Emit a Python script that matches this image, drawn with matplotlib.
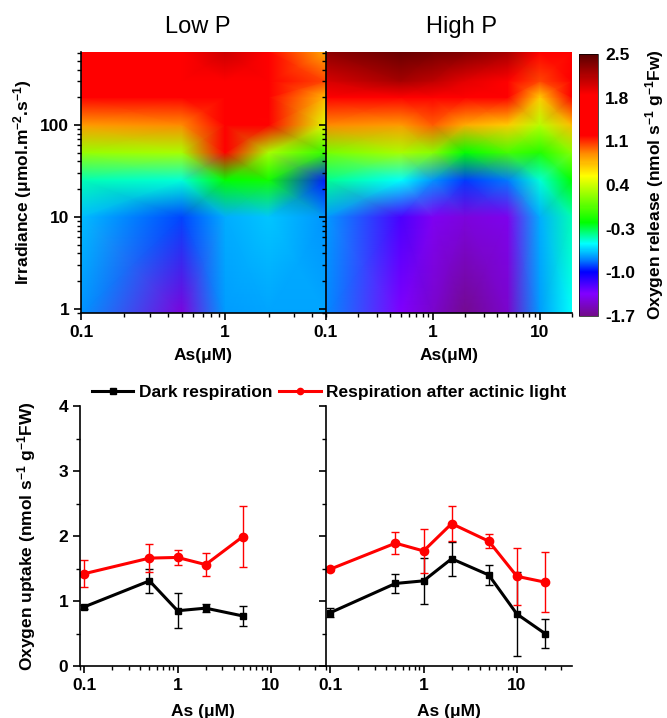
import numpy as np
import matplotlib
matplotlib.use('Agg')
import matplotlib.pyplot as plt
from matplotlib.colors import LinearSegmentedColormap, Normalize
from matplotlib.lines import Line2D
from matplotlib.ticker import LogLocator, NullFormatter

plt.rcParams['font.family'] = ['Liberation Sans', 'DejaVu Sans']
plt.rcParams['font.weight'] = 'bold'
plt.rcParams['mathtext.fontset'] = 'custom'
plt.rcParams['mathtext.rm'] = 'Liberation Sans:bold'
plt.rcParams['mathtext.bf'] = 'Liberation Sans:bold'
plt.rcParams['mathtext.default'] = 'rm'

# ---- data ----
irradiance = [0.9, 10, 25, 50, 100, 200, 300, 620]
as_low = [0.1, 0.5, 1, 2, 5]
as_high = [0.1, 0.5, 1, 2, 5, 10, 20]

# oxygen release, rows = irradiance, cols = As
o2_low = [
    [-0.76, -1.45, -0.74, -0.72, -0.72],
    [-0.68, -0.88, -0.70, -0.66, -0.76],
    [-0.45, -0.50, -0.20, -0.15, -0.95],
    [0.25, 0.30, 1.25, 0.30, -0.05],
    [0.85, 0.90, 1.50, 1.20, 0.45],
    [1.25, 1.30, 1.55, 1.35, 0.75],
    [1.40, 1.45, 1.65, 1.40, 1.05],
    [1.45, 1.55, 2.05, 1.30, 0.80],
]
o2_high = [
    [-0.78, -1.35, -1.50, -1.68, -1.50, -0.74, -0.55],
    [-0.74, -1.20, -1.38, -1.45, -1.40, -0.70, -0.45],
    [-0.40, -0.55, -0.75, -0.90, -0.80, -0.50, -0.20],
    [0.15, 0.30, 0.20, -0.20, 0.00, -0.10, 0.20],
    [0.90, 0.85, 1.00, 0.80, 0.70, 0.35, 0.75],
    [1.35, 1.60, 1.60, 1.50, 1.45, 0.70, 1.25],
    [2.00, 2.20, 2.10, 1.95, 1.80, 1.05, 1.45],
    [2.30, 2.45, 2.40, 2.35, 2.20, 1.50, 1.50],
]

# respiration (oxygen uptake)
dark_low = [0.91, 1.31, 0.85, 0.89, 0.77]
dark_low_err = [0.03, 0.19, 0.27, 0.06, 0.16]
light_low = [1.42, 1.66, 1.67, 1.56, 1.99]
light_low_err = [0.21, 0.21, 0.12, 0.18, 0.47]

dark_high = [0.82, 1.27, 1.31, 1.65, 1.40, 0.80, 0.50]
dark_high_err = [0.07, 0.14, 0.35, 0.26, 0.15, 0.64, 0.22]
light_high = [1.49, 1.89, 1.77, 2.19, 1.92, 1.38, 1.29]
light_high_err = [0.03, 0.17, 0.34, 0.27, 0.11, 0.44, 0.46]

cbar_ticks = [-1.7, -1.0, -0.3, 0.4, 1.1, 1.8, 2.5]

# ---- colour map (Origin-like rainbow) ----
vmin, vmax = -1.7, 2.5
stops = [(-1.7, '#720C8A'), (-1.35, '#8000FF'), (-1.0, '#0000FF'),
         (-0.8, '#0080FF'), (-0.55, '#00FFFF'), (-0.2, '#00FF00'),
         (0.55, '#FFFF00'), (0.9, '#FF8C00'), (1.2, '#FF0000'),
         (1.85, '#FF0000'), (2.5, '#5A0000')]
cmap = LinearSegmentedColormap.from_list(
    'origin_rainbow', [((v - vmin) / (vmax - vmin), c) for v, c in stops])
norm = Normalize(vmin, vmax)

W, H = 667, 718
fig = plt.figure(figsize=(W / 100, H / 100), dpi=100)


def rect(x0, y0, x1, y1):
    return [x0 / W, 1 - y1 / H, (x1 - x0) / W, (y1 - y0) / H]


def style_axis(ax, xlim, xticks, ylim, show_left_labels):
    ax.set_xscale('log')
    ax.set_yscale('log')
    ax.set_xlim(*xlim)
    ax.set_ylim(*ylim)
    for s in ['top', 'right']:
        ax.spines[s].set_visible(False)
    for s in ['left', 'bottom']:
        ax.spines[s].set_linewidth(1.2)
    ax.set_xticks(xticks)
    ax.set_xticklabels([('%g' % t) for t in xticks])
    ax.xaxis.set_minor_locator(LogLocator(base=10, subs=np.arange(2, 10)))
    ax.xaxis.set_minor_formatter(NullFormatter())
    ax.tick_params(which='major', direction='out', length=5, width=1.2,
                   labelsize=12.5)
    ax.tick_params(which='minor', direction='out', length=3, width=1)
    if not show_left_labels:
        ax.tick_params(axis='y', labelleft=False)


# ---- top row: heat maps ----
ax_lo = fig.add_axes(rect(81, 52, 326, 313))
ax_hi = fig.add_axes(rect(326, 52, 572, 313))

for ax, xs, data, xlim, xticks, first in [
        (ax_lo, as_low, o2_low, (0.1, 5), [0.1, 1], True),
        (ax_hi, as_high, o2_high, (0.1, 20), [0.1, 1, 10], False)]:
    X, Y = np.meshgrid(xs, irradiance)
    mesh = ax.pcolormesh(X, Y, np.array(data), cmap=cmap, norm=norm,
                         shading='gouraud')
    style_axis(ax, xlim, xticks, (0.9, 620), first)
    ax.set_yticks([1, 10, 100])
    ax.set_yticklabels(['1', '10', '100'])
    ax.yaxis.set_minor_locator(LogLocator(base=10, subs=np.arange(2, 10)))
    ax.yaxis.set_minor_formatter(NullFormatter())
    ax.set_xlabel('As(μM)', fontsize=12.5, fontweight='bold', labelpad=6)

ax_lo.set_ylabel('Irradiance (μmol.m$^{-2}$.s$^{-1}$)', fontsize=12.5,
                 fontweight='bold')
ax_lo.yaxis.set_label_coords(-0.19, 0.5)

fig.text(198 / W, 1 - 27 / H, 'Low P', fontsize=17, fontweight='normal',
         ha='center', va='center')
fig.text(461 / W, 1 - 27 / H, 'High P', fontsize=17, fontweight='normal',
         ha='center', va='center')

cax = fig.add_axes(rect(579, 54, 598, 316))
cb = fig.colorbar(mesh, cax=cax, ticks=cbar_ticks)
cb.ax.set_yticklabels(['%.1f' % t for t in cbar_ticks])
cb.ax.tick_params(length=0, labelsize=12.5, pad=5)
cb.outline.set_linewidth(0.5)
cb.set_label('Oxygen release (nmol s$^{-1}$ g$^{-1}$Fw)', fontsize=12.5,
             fontweight='bold', labelpad=6)

# ---- bottom row: respiration ----
bx_lo = fig.add_axes(rect(80, 406, 326, 666))
bx_hi = fig.add_axes(rect(326, 406, 572, 666))

for ax, xs, dk, dke, lt, lte, first in [
        (bx_lo, as_low, dark_low, dark_low_err, light_low, light_low_err, True),
        (bx_hi, as_high, dark_high, dark_high_err, light_high, light_high_err, False)]:
    ax.errorbar(xs, dk, yerr=dke, color='black', marker='s',
                markersize=5, linewidth=2.2, elinewidth=1, capsize=3,
                capthick=1)
    ax.errorbar(xs, lt, yerr=lte, color='red', marker='o',
                markersize=6, linewidth=2.2, elinewidth=1, capsize=3,
                capthick=1)
    style_axis(ax, (0.09, 39), [0.1, 1, 10], (0, 4), first)
    ax.set_yscale('linear')
    ax.set_ylim(0, 4)
    ax.set_yticks([0, 1, 2, 3, 4])
    ax.set_yticks(np.arange(0.5, 4, 1), minor=True)
    ax.tick_params(which='major', direction='out', length=5, width=1.2)
    ax.tick_params(which='minor', direction='out', length=3, width=1)
    if not first:
        ax.tick_params(axis='y', labelleft=False)
    ax.set_xlabel('As (μM)', fontsize=12.5, fontweight='bold', labelpad=8)

bx_lo.set_ylabel('Oxygen uptake (nmol s$^{-1}$ g$^{-1}$FW)', fontsize=12.5,
                 fontweight='bold')
bx_lo.yaxis.set_label_coords(-0.17, 0.5)

h1 = Line2D([], [], color='black', marker='s', markersize=4, linewidth=2.2)
h2 = Line2D([], [], color='red', marker='o', markersize=4.5, linewidth=2.2)
fig.legend(handles=[h1, h2],
           labels=['Dark respiration', 'Respiration after actinic light'],
           loc='center', ncol=2, bbox_to_anchor=(329 / W, 1 - 392 / H),
           frameon=False, fontsize=12.5, handlelength=2.4, handletextpad=0.3,
           columnspacing=0.4, borderpad=0, borderaxespad=0)

fig.savefig('out.png', dpi=100)
